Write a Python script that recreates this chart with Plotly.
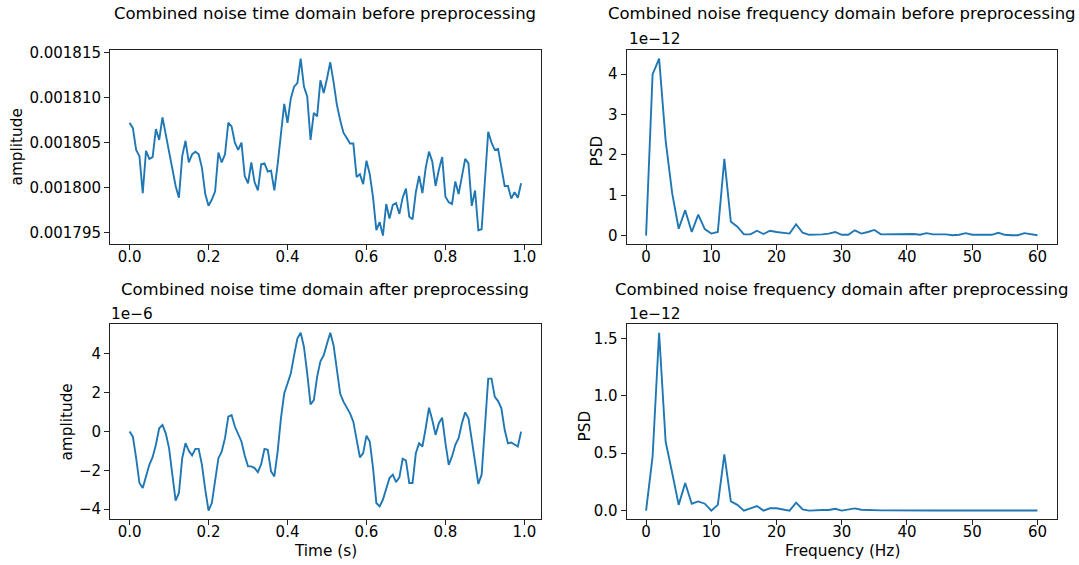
import plotly.graph_objects as go

W, H = 1079, 565

# ---------------- data ----------------
fs = 120
time_s = [i / fs for i in range(120)]
freq_hz = list(range(61))

# time-domain before preprocessing, in units of 1e-6
before_time_u = [
    1807.2, 1806.6, 1804.2, 1803.5, 1799.4, 1804.1, 1803.2, 1803.4, 1806.5, 1805.3,
    1807.8, 1805.9, 1804.0, 1802.0, 1800.2, 1798.9, 1803.5, 1805.2, 1802.8, 1803.7,
    1804.0, 1803.7, 1802.2, 1799.3, 1798.0, 1798.7, 1799.6, 1803.9, 1802.8, 1803.7,
    1807.2, 1806.8, 1805.0, 1804.2, 1805.0, 1801.3, 1800.5, 1802.8, 1800.6, 1799.7,
    1802.6, 1802.7, 1801.8, 1801.9, 1799.7, 1802.6, 1805.9, 1809.3, 1807.2, 1809.9,
    1811.2, 1811.6, 1814.3, 1811.2, 1810.1, 1805.3, 1808.3, 1807.9, 1811.9, 1810.5,
    1812.1, 1813.9, 1811.7, 1809.2, 1807.5, 1806.1, 1805.5, 1804.9, 1804.9, 1801.2,
    1801.5, 1800.4, 1803.0, 1801.5, 1798.9, 1795.3, 1796.2, 1794.7, 1798.2, 1796.6,
    1798.1, 1798.3, 1797.1, 1798.9, 1799.9, 1796.8, 1796.5, 1799.5, 1801.3, 1799.4,
    1802.2, 1804.0, 1802.9, 1800.2, 1802.0, 1803.4, 1799.0, 1798.4, 1798.2, 1800.7,
    1799.3, 1801.5, 1803.2, 1802.7, 1798.0, 1799.7, 1795.3, 1795.4, 1800.7, 1806.2,
    1805.0, 1804.2, 1804.3, 1802.2, 1800.2, 1800.2, 1798.8, 1799.5, 1798.9, 1800.5,
]
before_time = [v * 1e-6 for v in before_time_u]

# time-domain after preprocessing, in units of 1e-6 (axis offset "1e-6")
after_time = [
    0.0, -0.26, -1.37, -2.65, -2.91, -2.31, -1.71, -1.32, -0.68, 0.17,
    0.34, -0.09, -0.85, -2.22, -3.56, -3.16, -1.37, -0.60, -0.99, -1.23,
    -0.89, -0.89, -1.71, -2.99, -4.07, -3.68, -2.48, -1.37, -1.03, -0.34,
    0.77, 0.85, 0.26, -0.14, -0.51, -1.23, -1.79, -1.79, -1.88, -2.09,
    -1.68, -0.89, -0.94, -2.05, -2.31, -1.03, 0.68, 1.96, 2.48, 2.99,
    3.93, 4.79, 5.09, 4.36, 2.99, 1.40, 1.62, 2.82, 3.62, 3.93,
    4.53, 5.09, 4.44, 3.16, 1.96, 1.54, 1.20, 0.94, 0.51, -0.51,
    -1.33, -1.11, -0.21, -0.51, -1.88, -3.68, -3.85, -3.50, -2.99, -2.39,
    -2.22, -2.60, -2.36, -1.40, -1.50, -2.65, -2.65, -1.11, -0.60, -0.77,
    0.17, 1.23, 0.60, -0.17, 0.43, 0.72, -0.60, -1.71, -1.28, -0.68,
    -0.34, 0.43, 0.99, 0.68, -0.43, -1.62, -2.70, -2.22, 0.26, 2.73,
    2.73, 1.79, 1.57, 1.20, 0.09, -0.60, -0.56, -0.68, -0.77, 0.0,
]

# PSD before preprocessing, units of 1e-12
before_psd = [
    0.0, 3.99, 4.38, 2.35, 1.05, 0.17, 0.63, 0.09, 0.52, 0.16,
    0.05, 0.09, 1.90, 0.34, 0.22, 0.03, 0.03, 0.12, 0.04, 0.12,
    0.09, 0.07, 0.05, 0.28, 0.07, 0.02, 0.02, 0.03, 0.05, 0.09,
    0.02, 0.02, 0.13, 0.05, 0.09, 0.14, 0.03, 0.03, 0.03, 0.03,
    0.04, 0.04, 0.02, 0.06, 0.03, 0.03, 0.03, 0.01, 0.02, 0.06,
    0.02, 0.02, 0.02, 0.02, 0.07, 0.02, 0.01, 0.01, 0.06, 0.04,
    0.01,
]

# PSD after preprocessing, units of 1e-12
after_psd = [
    0.0, 0.47, 1.55, 0.60, 0.33, 0.05, 0.24, 0.06, 0.08, 0.06,
    0.0, 0.05, 0.49, 0.08, 0.05, 0.0, 0.02, 0.04, 0.0, 0.02,
    0.02, 0.01, 0.0, 0.07, 0.01, 0.0, 0.005, 0.005, 0.005, 0.016,
    0.0, 0.007, 0.019, 0.007, 0.004, 0.003, 0.002, 0.002, 0.001, 0.001,
    0.001, 0.001, 0.001, 0.001, 0.001, 0.001, 0.001, 0.001, 0.001, 0.001,
    0.001, 0.001, 0.001, 0.001, 0.001, 0.001, 0.001, 0.001, 0.001, 0.001,
    0.001,
]

titles = [
    "Combined noise time domain before preprocessing",
    "Combined noise frequency domain before preprocessing",
    "Combined noise time domain after preprocessing",
    "Combined noise frequency domain after preprocessing",
]

tl_yticks = [0.001795, 0.001800, 0.001805, 0.001810, 0.001815]
tr_yticks = [0, 1, 2, 3, 4]
bl_yticks = [-4, -2, 0, 2, 4]
br_yticks = [0.0, 0.5, 1.0, 1.5]
time_xticks = [0.0, 0.2, 0.4, 0.6, 0.8, 1.0]
freq_xticks = [0, 10, 20, 30, 40, 50, 60]

# ---------------- layout helpers ----------------
FONT = "DejaVu Sans"
LINE = "#1f77b4"
TICK_SIZE = 15
LABEL_SIZE = 15.3
TITLE_SIZE = 16.5


def px_x(p):
    return p / W


def px_y(p):
    return 1 - p / H


def pad_range(vals, frac=0.05):
    lo, hi = min(vals), max(vals)
    d = (hi - lo) * frac
    return [lo - d, hi + d]


col_x = [(110, 540.7), (626.5, 1057)]
row_y = [(44.3, 241), (321.3, 519)]

fig = go.Figure()

panels = [
    # (row, col, x, y, xticks, yticks, ytickformat, xtickformat)
    (0, 0, time_s, before_time, time_xticks, tl_yticks, ".6f", ".1f"),
    (0, 1, freq_hz, before_psd, freq_xticks, tr_yticks, "d", "d"),
    (1, 0, time_s, after_time, time_xticks, bl_yticks, "d", ".1f"),
    (1, 1, freq_hz, after_psd, freq_xticks, br_yticks, ".1f", "d"),
]

layout_axes = {}
for k, (r, c, xs, ys, xt, yt, yfmt, xfmt) in enumerate(panels, start=1):
    sfx = "" if k == 1 else str(k)
    fig.add_trace(go.Scatter(
        x=xs, y=ys, mode="lines",
        line=dict(color=LINE, width=1.9),
        xaxis="x" + sfx, yaxis="y" + sfx, showlegend=False,
        hoverinfo="x+y",
    ))
    x0, x1 = col_x[c]
    ytop, ybot = row_y[r]
    common = dict(
        showline=True, linecolor="#222222", linewidth=1, mirror=True,
        ticks="outside", ticklen=5, tickwidth=1, tickcolor="#222222",
        showgrid=False, zeroline=False,
        tickfont=dict(family=FONT, size=TICK_SIZE, color="black"),
    )
    layout_axes["xaxis" + sfx] = dict(
        common, domain=[px_x(x0), px_x(x1)], anchor="y" + sfx,
        range=pad_range(xs), tickmode="array", tickvals=xt,
        tickformat=xfmt, ticklabelstandoff=-6,
    )
    layout_axes["yaxis" + sfx] = dict(
        common, domain=[px_y(ybot), px_y(ytop)], anchor="x" + sfx,
        range=pad_range(ys), tickmode="array", tickvals=yt,
        tickformat=yfmt,
    )

fig.update_layout(**layout_axes)

ann = []
# subplot titles
for k, (r, c, *_rest) in enumerate(panels):
    x0, x1 = col_x[c]
    ty = 8 if r == 0 else 287
    ann.append(dict(text=titles[k], x=px_x((x0 + x1) / 2), y=px_y(ty),
                    xref="paper", yref="paper", showarrow=False,
                    xanchor="center", yanchor="middle",
                    font=dict(family=FONT, size=TITLE_SIZE, color="black")))

# offset texts
for x, y in [(626.5, 33), (109, 311), (626.5, 311)]:
    ann.append(dict(text="1e\u2212" + ("12" if x > 500 else "6"),
                    x=px_x(x), y=px_y(y), xref="paper", yref="paper",
                    showarrow=False, xanchor="left", yanchor="middle",
                    font=dict(family=FONT, size=LABEL_SIZE, color="black")))

# axis labels
for text, x, y, ang in [
    ("amplitude", 17, 143, -90),
    ("PSD", 597, 147, -90),
    ("amplitude", 67, 421, -90),
    ("PSD", 585, 425, -90),
    ("Time (s)", 325, 551, 0),
    ("Frequency (Hz)", 842, 551, 0),
]:
    ann.append(dict(text=text, x=px_x(x), y=px_y(y), xref="paper", yref="paper",
                    showarrow=False, xanchor="center", yanchor="middle", textangle=ang,
                    font=dict(family=FONT, size=LABEL_SIZE, color="black")))

fig.update_layout(
    width=W, height=H,
    margin=dict(l=0, r=0, t=0, b=0),
    paper_bgcolor="white", plot_bgcolor="white",
    annotations=ann,
    font=dict(family=FONT, color="black"),
)

fig.write_html("out.html")
